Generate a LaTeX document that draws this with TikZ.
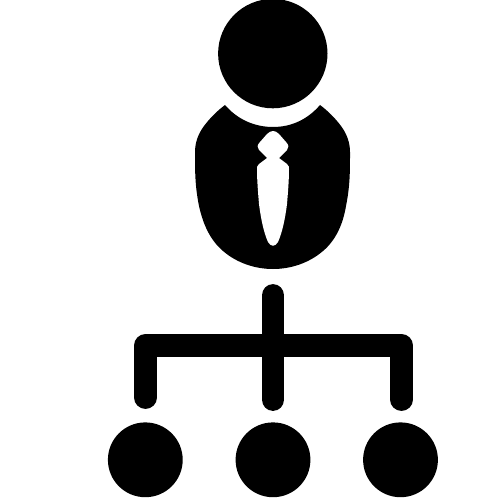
\documentclass[tikz,border=0pt]{standalone}
\tikzset{
  icon/.style={fill=black,draw=none},
  hole/.style={fill=white,draw=none},
  bar/.style={draw=black,line width=22.8pt,line cap=round,line join=round,fill=none}
}
\begin{document}
\begin{tikzpicture}[x=1pt,y=-1pt]
\useasboundingbox[fill=white] (0,0) rectangle (500,500);
% head
\fill[icon] (272.8,53.6) circle (54.7);
% body
\path[icon] (225,105)
  .. controls (237,119) and (254,127) .. (273,127)
  .. controls (292,127) and (308,119) .. (320,105)
  .. controls (328,111) and (335,118) .. (341,126)
  .. controls (347,134) and (350,143) .. (350,152)
  .. controls (350,172) and (350,186) .. (346,206)
  .. controls (343,224) and (336,240) .. (323,251)
  .. controls (309,263) and (291,269) .. (273,269)
  .. controls (255,269) and (237,263) .. (223,251)
  .. controls (210,240) and (203,224) .. (199,206)
  .. controls (195,186) and (195,172) .. (195,152)
  .. controls (195,143) and (198,134) .. (204,126)
  .. controls (210,118) and (217,111) .. (225,105) -- cycle;
% tie
\path[hole] (273,131)
  .. controls (275,131) and (277,132) .. (279,134)
  -- (286,142) .. controls (289,145) and (289,148) .. (287,150)
  -- (279,158) -- (287,164) .. controls (289,166) and (289,167) .. (289,169)
  .. controls (289,180) and (288,192) .. (287,204)
  .. controls (285,220) and (282,233) .. (278,242)
  .. controls (275,247) and (271,247) .. (268,242)
  .. controls (264,233) and (261,220) .. (259,204)
  .. controls (258,192) and (257,180) .. (257,169)
  .. controls (257,167) and (257,166) .. (259,164)
  -- (267,158) -- (259,150) .. controls (257,148) and (257,145) .. (260,142)
  -- (267,134) .. controls (269,132) and (271,131) .. (273,131) -- cycle;
% connectors
\coordinate (stemtop) at (273,295.5);
\coordinate (stembot) at (273,399.5);
\coordinate (barL) at (145.5,345.5);
\coordinate (barR) at (401.5,345.5);
\coordinate (legL) at (145.5,397.5);
\coordinate (legR) at (401.5,399.5);
\draw[bar] (stemtop) -- (stembot);
\draw[bar] (legL) -- (barL) -- (barR) -- (legR);
% children
\fill[icon] (145.3,459.8) circle (37.4);
\fill[icon] (273,459.8) circle (37.4);
\fill[icon] (400.5,459.8) circle (37.4);
\end{tikzpicture}
\end{document}
